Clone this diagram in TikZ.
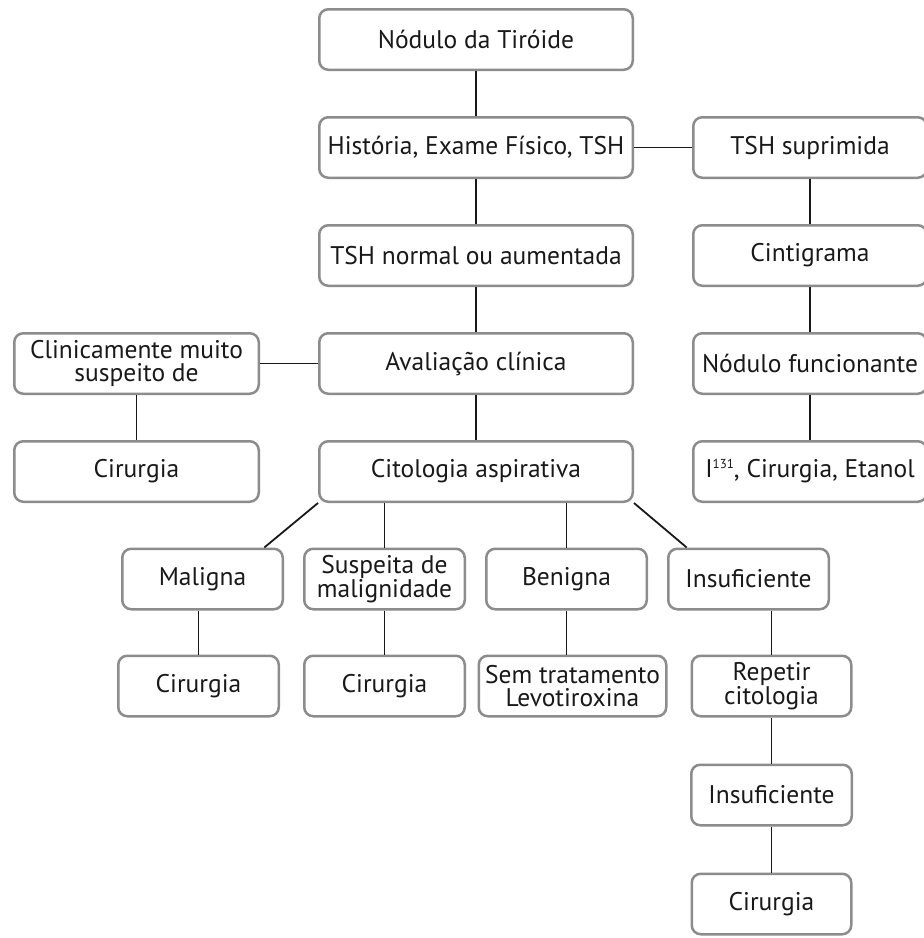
\documentclass[tikz,border=0pt]{standalone}
\usepackage{fontspec}
\setmainfont{PT Sans}
\usepackage{tikz}
\usetikzlibrary{positioning}

\begin{document}
\begin{tikzpicture}[
                x = 1pt,
                y = -1pt,
                box/.style = {
                    draw = black!45,
                    line width = 2.5pt,
                    rounded corners = 9pt,
                    fill = white,
                    minimum width = #1,
                    minimum height = 60.5pt,
                    inner sep = 2pt,
                    align = center,
                    text = black!90,
                    font = \fontsize{25.5}{23}\selectfont
                },
                box/.default = 313.5pt,
                link/.style = {line width = 1.8pt, black!90},
                node distance = {45pt and 58pt}
            ]
            \useasboundingbox (0,0) rectangle (924,938);
            \node[box] (1) at (476,39.5) {Nódulo da Tiróide};
            \node[box, below=of 1] (2) {História, Exame Físico, TSH};
            \node[box=233.5pt, right=of 2] (3) {TSH suprimida};
            % 
            \node[box, below=of 2] (4) {TSH normal ou aumentada};
            \node[box=233.5pt, below=of 3] (5) {Cintigrama};
            % 
            \node[box, below=of 4] (6) {Avaliação clínica};
            \node[box=244.5pt, left=of 6] (7) {Clinicamente muito\\suspeito de};
            \node[box=233.5pt, below=of 5] (8) {Nódulo funcionante};
            % 
            \node[box=244.5pt, below=of 7] (9) {Cirurgia};
            \node[box, below=of 6] (10) {Citologia aspirativa};
            \node[box=233.5pt, below=of 8] (11) {I\raisebox{9pt}{\fontsize{13}{13}\selectfont 131}, Cirurgia, Etanol};
            % 
            % 
            \node[box=160.5pt] (12) at (202.5,579) {Maligna};
            \node[box=160.5pt] (13) [right=19pt of 12] {Suspeita de\\malignidade};
            \node[box=160.5pt] (14) [right=19pt of 13] {Benigna};
            \node[box=160.5pt] (15) [right=19pt of 14] {Insuficiente};
            % 
            \node[box=160.5pt, below=44pt of 12, xshift=-4pt] (16) {Cirurgia};
            \node[box=160.5pt, below=44pt of 13] (17) {Cirurgia};
            \node[box=187.5pt, below=44pt of 14, xshift=6pt] (18) {Sem tratamento\\Levotiroxina};
            \node[box=159.5pt, below=44pt of 15, xshift=23pt] (19) {Repetir\\citologia};
            \node[box=160.5pt, below=46pt of 19] (20) {Insuficiente};
            \node[box=159.5pt, below=46pt of 20] (21) {Cirurgia};
            % 
            \draw[link] (1) -- (2);
            \draw[link] (2) -- (3);
            \draw[link] (2) -- (4);
            \draw[link] (3) -- (5);
            % 
            \draw[link] (4) -- (6);
            \draw[link] (5) -- (8);
            \draw[link] (6) -- (7);
            \draw[link] (7) -- (9);
            \draw[link] (6) -- (10);
            \draw[link] (8) -- (11);
            % 
            \draw[link] (10.south west) -- (12.27);
            \draw[link] (13.north) -- (13.north |- 10.south);
            \draw[link] (14.north) -- (14.north |- 10.south);
            \draw[link] (10.south east) -- (15.153);
            % 
            \draw[link] (16.north) -- (16.north |- 12.south);
            \draw[link] (13) -- (17);
            \draw[link] (14.south) -- (14.south |- 18.north);
            \draw[link] (19.north) -- (19.north |- 15.south);
            \draw[link] (19) -- (20);
            \draw[link] (20) -- (21);
            % 
        \end{tikzpicture}
\end{document}
